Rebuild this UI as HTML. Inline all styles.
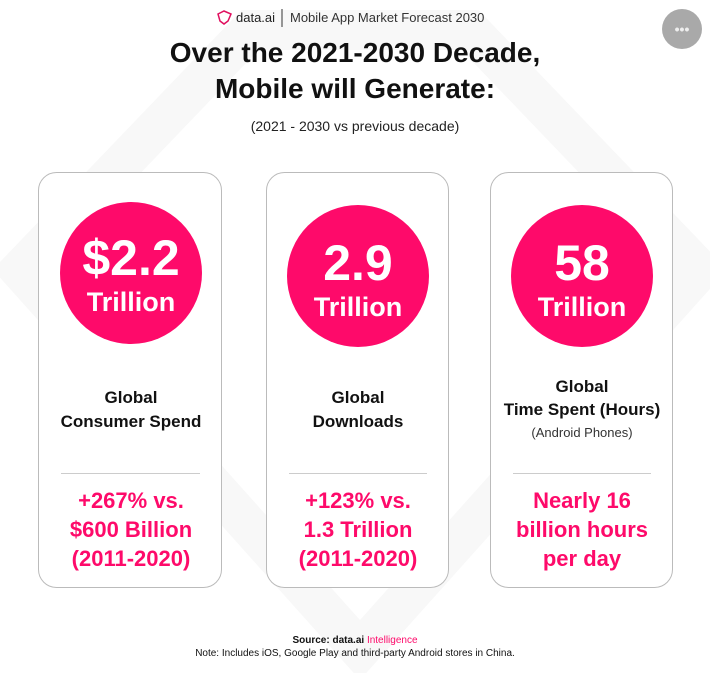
<!DOCTYPE html>
<html><head><meta charset="utf-8"><style>
html,body{margin:0;padding:0;background:#fff;}
svg{display:block;font-family:"Liberation Sans",sans-serif;}
</style></head><body>
<svg width="710" height="673" viewBox="0 0 710 673">
<g>
<polygon points="250,30 470,30 700,270 360,650 20,270" fill="none" stroke="#f8f8f8" stroke-width="40"/>
</g>
<g>
<g>
<polygon points="218,14 224,11 231,14 228,21 224,24 220,21" fill="none" stroke="#e0105f" stroke-width="1.5"/>
<text x="236" y="22" font-size="13" fill="#222">data.ai</text>
</g>
<line x1="282" y1="9" x2="282" y2="27" stroke="#333" stroke-width="1"/>
<text x="290" y="22" font-size="13" fill="#333">Mobile App Market Forecast 2030</text>
</g>
<g>
<circle cx="682" cy="29" r="20" fill="#a9a9a9"/>
<text x="682" y="34" font-size="14" fill="#eee" text-anchor="middle" font-weight="bold">•••</text>
</g>
<text x="355" y="62" font-size="28" font-weight="bold" fill="#111" text-anchor="middle">Over the 2021-2030 Decade,</text>
<text x="355" y="98" font-size="28" font-weight="bold" fill="#111" text-anchor="middle">Mobile will Generate:</text>
<text x="355" y="131" font-size="14" fill="#222" text-anchor="middle">(2021 - 2030 vs previous decade)</text>

<g>
<rect x="38.5" y="172.5" width="183" height="415" rx="18" fill="#fff" stroke="#bbb"/>
<circle cx="131" cy="273" r="71" fill="#fe0a6a"/>
<text x="131" y="275" font-size="50" font-weight="bold" fill="#fff" text-anchor="middle">$2.2</text>
<text x="131" y="311" font-size="27" font-weight="bold" fill="#fff" text-anchor="middle">Trillion</text>
<text x="131" y="403" font-size="17" font-weight="bold" fill="#111" text-anchor="middle">Global</text>
<text x="131" y="427" font-size="17" font-weight="bold" fill="#111" text-anchor="middle">Consumer Spend</text>
<line x1="61" y1="473.5" x2="200" y2="473.5" stroke="#ccc"/>
<text x="131" y="508" font-size="22" font-weight="bold" fill="#fe0a6a" text-anchor="middle">+267% vs.</text>
<text x="131" y="537" font-size="22" font-weight="bold" fill="#fe0a6a" text-anchor="middle">$600 Billion</text>
<text x="131" y="566" font-size="22" font-weight="bold" fill="#fe0a6a" text-anchor="middle">(2011-2020)</text>
</g>

<g>
<rect x="266.5" y="172.5" width="182" height="415" rx="18" fill="#fff" stroke="#bbb"/>
<circle cx="358" cy="276" r="71" fill="#fe0a6a"/>
<text x="358" y="280" font-size="50" font-weight="bold" fill="#fff" text-anchor="middle">2.9</text>
<text x="358" y="316" font-size="27" font-weight="bold" fill="#fff" text-anchor="middle">Trillion</text>
<text x="358" y="403" font-size="17" font-weight="bold" fill="#111" text-anchor="middle">Global</text>
<text x="358" y="427" font-size="17" font-weight="bold" fill="#111" text-anchor="middle">Downloads</text>
<line x1="289" y1="473.5" x2="427" y2="473.5" stroke="#ccc"/>
<text x="358" y="508" font-size="22" font-weight="bold" fill="#fe0a6a" text-anchor="middle">+123% vs.</text>
<text x="358" y="537" font-size="22" font-weight="bold" fill="#fe0a6a" text-anchor="middle">1.3 Trillion</text>
<text x="358" y="566" font-size="22" font-weight="bold" fill="#fe0a6a" text-anchor="middle">(2011-2020)</text>
</g>

<g>
<rect x="490.5" y="172.5" width="182" height="415" rx="18" fill="#fff" stroke="#bbb"/>
<circle cx="582" cy="276" r="71" fill="#fe0a6a"/>
<text x="582" y="280" font-size="50" font-weight="bold" fill="#fff" text-anchor="middle">58</text>
<text x="582" y="316" font-size="27" font-weight="bold" fill="#fff" text-anchor="middle">Trillion</text>
<text x="582" y="392" font-size="17" font-weight="bold" fill="#111" text-anchor="middle">Global</text>
<text x="582" y="415" font-size="17" font-weight="bold" fill="#111" text-anchor="middle">Time Spent (Hours)</text>
<text x="582" y="437" font-size="13" fill="#333" text-anchor="middle">(Android Phones)</text>
<line x1="513" y1="473.5" x2="651" y2="473.5" stroke="#ccc"/>
<text x="582" y="508" font-size="22" font-weight="bold" fill="#fe0a6a" text-anchor="middle">Nearly 16</text>
<text x="582" y="537" font-size="22" font-weight="bold" fill="#fe0a6a" text-anchor="middle">billion hours</text>
<text x="582" y="566" font-size="22" font-weight="bold" fill="#fe0a6a" text-anchor="middle">per day</text>
</g>

<text x="355" y="643" font-size="10" fill="#111" text-anchor="middle"><tspan font-weight="bold">Source: data.ai </tspan><tspan fill="#fe0a6a">Intelligence</tspan></text>
<text x="355" y="656" font-size="10" fill="#111" text-anchor="middle">Note: Includes iOS, Google Play and third-party Android stores in China.</text>
</svg>
</body></html>
